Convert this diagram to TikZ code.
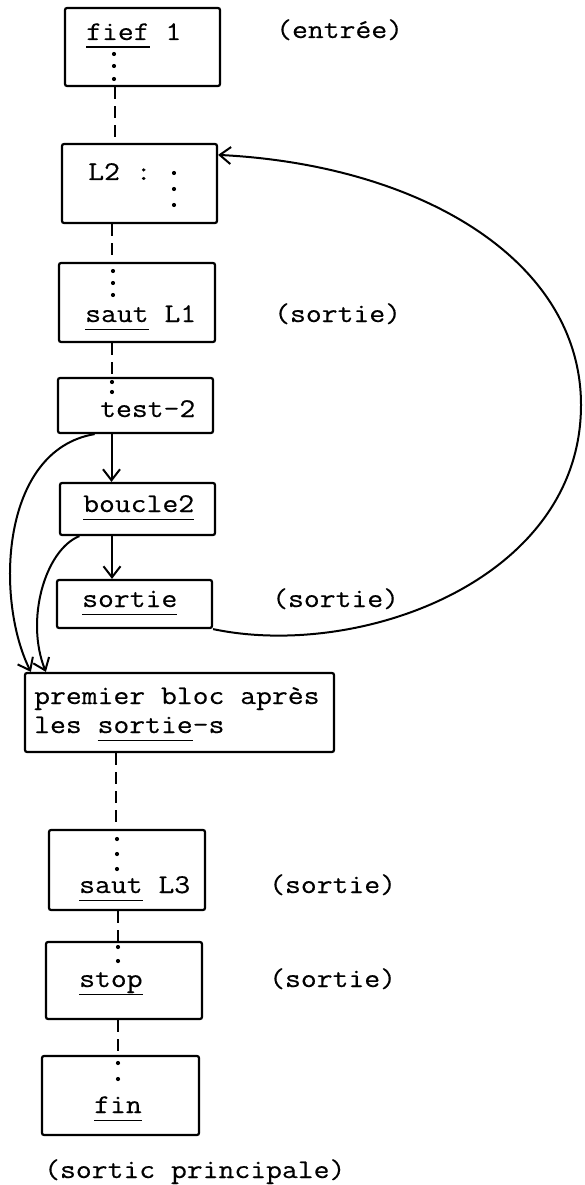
\documentclass[tikz,border=0pt]{standalone}
\usepackage{fontspec}
\newfontfamily\tapuscrit[FakeStretch=1.14,FakeBold=0.4]{Latin Modern Mono}
\usetikzlibrary{arrows.meta}
\newcommand{\souligne}[1]{\setbox0=\hbox{#1}\rlap{\rule[-8pt]{\wd0}{1.5pt}}\box0\relax}

\begin{document}
\begin{tikzpicture}
  [x=1pt,y=-1pt,
   bloc/.style={draw,rectangle,rounded corners=2pt,line width=2.2pt,inner sep=0pt},
   texte/.style={anchor=base west,inner sep=0pt,font=\tapuscrit\fontsize{27}{31}\selectfont},
   fleche/.style={line width=2pt,-{Straight Barb[length=11pt,width=17pt,line width=2pt]}},
   tirets/.style={line width=2.4pt,dash pattern=on 12pt off 7pt}]
  \useasboundingbox (0,0) rectangle (584,1185);

  % Blocs du programme
  \node[bloc,minimum width=155pt,minimum height=78pt] (B1) at (142.5,47) {};
  \node[bloc,minimum width=155pt,minimum height=79pt] (B2) at (139.5,183.5) {};
  \node[bloc,minimum width=156pt,minimum height=79pt] (B3) at (137,302.5) {};
  \node[bloc,minimum width=155pt,minimum height=55pt] (B4) at (135.5,405.5) {};
  \node[bloc,minimum width=155pt,minimum height=52pt] (B5) at (137.5,509) {};
  \node[bloc,minimum width=155pt,minimum height=48pt] (B6) at (134.5,604) {};
  \node[bloc,minimum width=309pt,minimum height=79pt] (B7) at (179.5,712.5) {};
  \node[bloc,minimum width=156pt,minimum height=80pt] (B8) at (127,870) {};
  \node[bloc,minimum width=156pt,minimum height=77pt] (B9) at (124,980.5) {};
  \node[bloc,minimum width=157pt,minimum height=79pt] (B10) at (120.5,1095.5) {};

  % Textes des blocs
  \node[texte] (tFief) at (86,40) {\souligne{fief} 1};
  \node[texte] (tL2) at (88,180) {L2 :};
  \node[texte] (tSaut1) at (85,322) {\souligne{saut} L1};
  \node[texte] (tTest) at (100,417) {test-2};
  \node[texte] (tBoucle) at (83,512) {\souligne{boucle2}};
  \node[texte] (tSortie) at (82,607) {\souligne{sortie}};
  \node[texte] (tPremier) at (34,704) {premier bloc après};
  \node[texte] (tLes) at (34,733) {les \souligne{sortie}-s};
  \node[texte] (tSaut3) at (79,893) {\souligne{saut} L3};
  \node[texte] (tStop) at (79,987) {\souligne{stop}};
  \node[texte] (tFin) at (94,1113) {\souligne{fin}};

  % Remarques a droite
  \node[texte] (rEntree) at (276,38) {(entrée)};
  \node[texte] (rSortie1) at (274,322) {(sortie)};
  \node[texte] (rSortie2) at (272,607) {(sortie)};
  \node[texte] (rSortie3) at (269,893) {(sortie)};
  \node[texte] (rSortie4) at (269,987) {(sortie)};
  \node[texte] (rPrincipale) at (44,1178) {(sortic principale)};

  % Points de suite
  \foreach \x/\y in {114/54, 114/66, 114/79, 174/173, 174/189, 174/205,
                     113/271, 113/283, 113/295, 112/382, 112/392,
                     117/839, 117/854, 117/869, 118/947, 118/961,
                     118/1063, 118/1079}
    \fill (\x,\y) circle (2.1pt);

  % Liaisons en tirets
  \foreach \from/\to/\dx in {B1/B2/-27.5, B2/B3/-27.5, B3/B4/-25,
                             B7/B8/-63.5, B8/B9/-9, B9/B10/-6}
    \draw[tirets] ([xshift=\dx pt]\from.south) -- ([xshift=\dx pt]\from.south |- \to.north);

  % Fleches
  \draw[fleche] ([xshift=-24pt]B4.south) -- ([xshift=-24pt]B4.south |- B5.north);
  \draw[fleche] ([xshift=-25.5pt]B5.south) -- ([xshift=-25.5pt]B5.south |- B6.north);
  \draw[fleche] (B4.215) .. controls (0,450) and (-5,600) .. ([xshift=7pt]B7.north west);
  \draw[fleche] (B5.205) .. controls (45,550) and (25,620) .. ([xshift=22pt]B7.north west);
  \draw[fleche] (B6.south east) .. controls (360,660) and (581,580) .. (581,405)
                .. controls (581,260) and (420,165) .. (B2.20);
\end{tikzpicture}
\end{document}
